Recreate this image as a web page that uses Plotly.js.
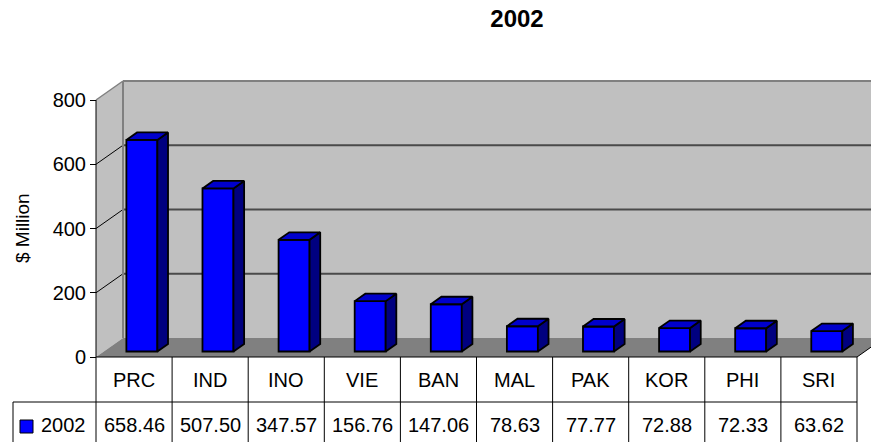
<!DOCTYPE html>
<html>
<head>
<meta charset="utf-8">
<script src="https://cdn.plot.ly/plotly-3.0.1.min.js"></script>
<style>html,body{margin:0;padding:0;background:#fff;}#chart{width:871px;height:442px;}</style>
</head>
<body>
<div id="chart"></div>
<script>
// ---- data ----
const categories = ['PRC', 'IND', 'INO', 'VIE', 'BAN', 'MAL', 'PAK', 'KOR', 'PHI', 'SRI'];
const values2002 = [658.46, 507.50, 347.57, 156.76, 147.06, 78.63, 77.77, 72.88, 72.33, 63.62];
const seriesName = '2002';
const yTickVals = [0, 200, 400, 600, 800];
const yAxisTitle = '$ Million';
const chartTitle = '2002';

// ---- geometry (layout constants, not data) ----
const W = 871, H = 442;
const PX_PER_CAT = 76.1, AXIS_X = 96;          // front axis position in px
const Y0_PX = 357, PX_PER_UNIT = 257 / 800;     // value 0 at y=357, 800 at y=100
const xMin = -AXIS_X / PX_PER_CAT, xMax = (W - AXIS_X) / PX_PER_CAT;
const yMin = -(H - Y0_PX) / PX_PER_UNIT, yMax = Y0_PX / PX_PER_UNIT;
const DX = 27 / PX_PER_CAT, DY = 19 / PX_PER_UNIT;  // full depth (front -> back wall)
const F1 = 0.29, F2 = 0.684;                       // bar front / back depth fractions
const BW = 31 / PX_PER_CAT;                        // bar width
const yMaxWall = yTickVals[yTickVals.length - 1];
const n = categories.length;
const pxY = p => (Y0_PX - p) / PX_PER_UNIT;        // pixel y -> data y
const pxX = p => (p - AXIS_X) / PX_PER_CAT;        // pixel x -> data x

const FONT = 'Liberation Sans, Arial, sans-serif';
const FS = 20;

// ---- bars ----
const base = F1 * DY;
const xFront = categories.map((c, i) => i + 0.5 + F1 * DX);
const bd = (F2 - F1) * DX, bdy = (F2 - F1) * DY;

const sideX = [], sideY = [], topX = [], topY = [];
values2002.forEach((v, i) => {
  const xl = xFront[i] - BW / 2, xr = xFront[i] + BW / 2, yt = base + v;
  sideX.push(xr, xr + bd, xr + bd, xr, xr, null);
  sideY.push(base, base + bdy, yt + bdy, yt, base, null);
  topX.push(xl, xr, xr + bd, xl + bd, xl, null);
  topY.push(yt, yt, yt + bdy, yt + bdy, yt, null);
});

const traces = [
  {
    type: 'bar', name: seriesName, x: xFront, y: values2002, base: base, width: BW,
    marker: {color: '#0000FF', line: {color: '#000000', width: 1.8}},
    hoverinfo: 'skip', showlegend: false
  },
  {
    type: 'scatter', mode: 'lines', x: sideX, y: sideY, fill: 'toself', fillcolor: '#000080',
    line: {color: '#000000', width: 1.8}, hoverinfo: 'skip', showlegend: false
  },
  {
    type: 'scatter', mode: 'lines', x: topX, y: topY, fill: 'toself', fillcolor: '#0000CC',
    line: {color: '#000000', width: 1.8}, hoverinfo: 'skip', showlegend: false
  }
];

// ---- walls, floor, gridlines ----
const shapes = [];
shapes.push({type: 'rect', xref: 'x', yref: 'y', x0: DX, x1: n + DX + 1, y0: DY, y1: yMaxWall + DY,
  fillcolor: '#C0C0C0', line: {width: 0}, layer: 'below'});
shapes.push({type: 'path', xref: 'x', yref: 'y',
  path: `M0,0 L${DX},${DY} L${DX},${yMaxWall + DY} L0,${yMaxWall} Z`,
  fillcolor: '#C0C0C0', line: {width: 0}, layer: 'below'});
shapes.push({type: 'path', xref: 'x', yref: 'y',
  path: `M0,0 L${n},0 L${n + DX},${DY} L${DX},${DY} Z`,
  fillcolor: '#808080', line: {width: 0}, layer: 'below'});
yTickVals.forEach(v => {
  if (v === 0) return;
  if (v === yMaxWall) {
    shapes.push({type: 'line', xref: 'x', yref: 'y', x0: DX, x1: n + DX + 1, y0: v + DY, y1: v + DY,
      line: {color: '#808080', width: 2}, layer: 'below'});
    shapes.push({type: 'line', xref: 'x', yref: 'y', x0: 0, x1: DX, y0: v, y1: v + DY,
      line: {color: '#808080', width: 1.5}, layer: 'below'});
  } else {
    shapes.push({type: 'line', xref: 'x', yref: 'y', x0: DX, x1: n + DX + 1, y0: v + DY, y1: v + DY,
      line: {color: '#4A4A4A', width: 1.8}, layer: 'below'});
    shapes.push({type: 'line', xref: 'x', yref: 'y', x0: 0, x1: DX, y0: v, y1: v + DY,
      line: {color: '#000000', width: 1}, layer: 'below'});
  }
});
shapes.push({type: 'line', xref: 'x', yref: 'y', x0: DX, x1: DX, y0: DY, y1: yMaxWall + DY,
  line: {color: '#808080', width: 2}, layer: 'below'});
shapes.push({type: 'line', xref: 'x', yref: 'y', x0: n, x1: n + DX, y0: 0, y1: DY,
  line: {color: '#000000', width: 1}, layer: 'below'});
shapes.push({type: 'line', xref: 'x', yref: 'y', x0: 0, x1: 0, y0: 0, y1: yMaxWall,
  line: {color: '#000000', width: 1}});

// ---- data table ----
const rowTop = 0, rowMid = pxY(402), rowBot = pxY(442), legLeft = pxX(13);
shapes.push({type: 'line', xref: 'x', yref: 'y', x0: 0, x1: n, y0: rowTop, y1: rowTop,
  line: {color: '#000000', width: 1}});
shapes.push({type: 'line', xref: 'x', yref: 'y', x0: legLeft, x1: n, y0: rowMid, y1: rowMid,
  line: {color: '#000000', width: 1}});
for (let k = 0; k <= n; k++) {
  shapes.push({type: 'line', xref: 'x', yref: 'y', x0: k, x1: k, y0: rowTop, y1: rowBot,
    line: {color: '#000000', width: 1}});
}
shapes.push({type: 'line', xref: 'x', yref: 'y', x0: legLeft, x1: legLeft, y0: rowMid, y1: rowBot,
  line: {color: '#000000', width: 1}});
shapes.push({type: 'rect', xref: 'x', yref: 'y', x0: pxX(20), x1: pxX(33), y0: pxY(433), y1: pxY(420),
  fillcolor: '#0000FF', line: {color: '#000000', width: 1}});

const annotations = [];
const row1Y = pxY(380), row2Y = pxY(425);
categories.forEach((c, i) => {
  annotations.push({xref: 'x', yref: 'y', x: i + 0.5, y: row1Y, text: c, showarrow: false,
    xanchor: 'center', yanchor: 'middle', font: {family: FONT, size: FS, color: '#000'}});
  annotations.push({xref: 'x', yref: 'y', x: i + 0.5, y: row2Y, text: values2002[i].toFixed(2), showarrow: false,
    xanchor: 'center', yanchor: 'middle', font: {family: FONT, size: FS, color: '#000'}});
});
annotations.push({xref: 'x', yref: 'y', x: pxX(39), y: row2Y, text: seriesName, showarrow: false,
  xanchor: 'left', yanchor: 'middle', font: {family: FONT, size: FS, color: '#000'}});
annotations.push({xref: 'paper', yref: 'paper', x: 22 / W, y: 1 - 228 / H, text: yAxisTitle, showarrow: false,
  textangle: -90, xanchor: 'center', yanchor: 'middle', font: {family: FONT, size: 19, color: '#000'}});

const layout = {
  width: W, height: H, autosize: false,
  margin: {l: 0, r: 0, t: 0, b: 0, pad: 0},
  paper_bgcolor: '#FFFFFF', plot_bgcolor: '#FFFFFF',
  showlegend: false,
  title: {text: '<b>' + chartTitle + '</b>', font: {family: 'Liberation Sans, Arial, sans-serif', size: 24, color: '#000'},
    x: 517 / W, xanchor: 'center', xref: 'paper', y: 1 - 19 / H, yanchor: 'middle', yref: 'container'},
  xaxis: {range: [xMin, xMax], visible: false, fixedrange: true},
  yaxis: {range: [yMin, yMax], anchor: 'free', position: AXIS_X / W, tickvals: yTickVals,
    ticks: 'outside', ticklen: 6, tickwidth: 1, tickcolor: '#000', showgrid: false, zeroline: false,
    showline: false, tickfont: {family: FONT, size: FS, color: '#000'}, fixedrange: true},
  shapes: shapes, annotations: annotations
};

Plotly.newPlot('chart', traces, layout, {displayModeBar: false, staticPlot: true});
</script>
</body>
</html>
